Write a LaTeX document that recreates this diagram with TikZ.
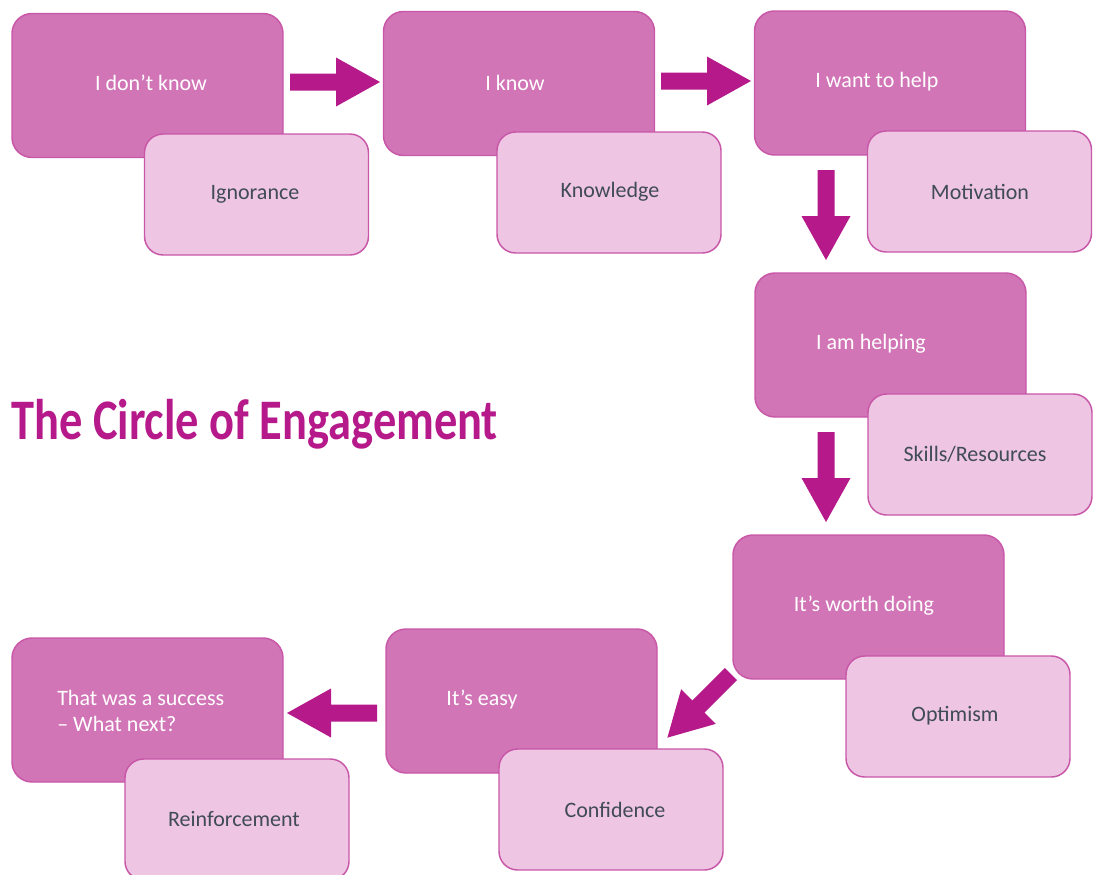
\documentclass[tikz,border=0pt]{standalone}
\usepackage{fontspec}
\setmainfont{Carlito}
\definecolor{darkpink}{HTML}{D175B7}
\definecolor{lightpink}{HTML}{EEC5E3}
\definecolor{edgepink}{HTML}{C957A8}
\definecolor{arrowpink}{HTML}{B5198A}
\definecolor{greytext}{HTML}{404B55}
\tikzset{
  darkbox/.style={draw=edgepink, fill=darkpink, line width=1.1pt, rounded corners=15pt,
    minimum width=203.25pt, minimum height=108pt, inner sep=0pt},
  lightbox/.style={draw=edgepink, fill=lightpink, line width=1.1pt, rounded corners=14pt,
    minimum width=168pt, minimum height=90.75pt, inner sep=0pt},
  darktext/.style={text=white, font=\fontsize{16.5}{19.5}\selectfont, inner sep=0pt},
  lighttext/.style={text=greytext, font=\fontsize{16.5}{19.5}\selectfont, inner sep=0pt},
  pics/blockarrow/.style={code={
    \fill[arrowpink] (0,-8.5) -- (46,-8.5) -- (46,-24.5) -- (90,0) -- (46,24.5) -- (46,8.5) -- (0,8.5) -- cycle;}}
}
\begin{document}
\begin{tikzpicture}[x=0.75pt, y=-0.75pt]
\useasboundingbox (0,0) rectangle (1100,875);
\clip (0,0) rectangle (1100,875);
% row 1
\node[darkbox] (d1) at (147.5,85.5) {};
\node[lightbox] (l1) at (256.5,194.5) {};
\node[darkbox] (d2) at (519,83.5) {};
\node[lightbox] (l2) at (609,192.5) {};
\node[darkbox] (d3) at (890,83) {};
\node[lightbox] (l3) at (979.5,191.5) {};
% right column
\node[darkbox] (d4) at (890.5,345) {};
\node[lightbox] (l4) at (980,454.5) {};
\node[darkbox] (d5) at (868.5,607) {};
\node[lightbox] (l5) at (958,716.5) {};
% bottom row
\node[darkbox] (d6) at (521.5,701) {};
\node[lightbox] (l6) at (611,809.5) {};
\node[darkbox] (d7) at (147.5,710) {};
\node[lightbox] (l7) at (237,819.5) {};
% texts
\node[darktext] (t1) at (151,83) {I don’t know};
\node[darktext] (t2) at (515,83) {I know};
\node[darktext] (t3) at (877,82) {I want to help};
\node[darktext] (t4) at (871,344) {I am helping};
\node[darktext] (t5) at (864,606) {It’s worth doing};
\node[darktext] (t6) at (482,700) {It’s easy};
\node[darktext, align=left, anchor=west] (t7) at (57,711) {That was a success\\– What next?};
\node[lighttext] (s1) at (255,194) {Ignorance};
\node[lighttext] (s2) at (610,192) {Knowledge};
\node[lighttext] (s3) at (980,192) {Motivation};
\node[lighttext] (s4) at (975,454) {Skills/Resources};
\node[lighttext] (s5) at (955,716) {Optimism};
\node[lighttext] (s6) at (615,810) {Confidence};
\node[lighttext] (s7) at (234,819) {Reinforcement};
% arrows
\pic (a1) at (290,82) {blockarrow};
\pic (a2) at (661,81) {blockarrow};
\pic[rotate=-90] (a3) at (826,170) {blockarrow};
\pic[rotate=-90] (a4) at (826,432) {blockarrow};
\pic[rotate=225] (a5) at (731,674) {blockarrow};
\pic[rotate=180] (a6) at (377,713) {blockarrow};
% title
\node[anchor=base west, inner sep=0pt, text=arrowpink, font=\fontsize{43}{50}\selectfont\bfseries] (title) at (11,439) {\scalebox{0.81}[1]{The Circle of Engagement}};
\end{tikzpicture}
\end{document}
